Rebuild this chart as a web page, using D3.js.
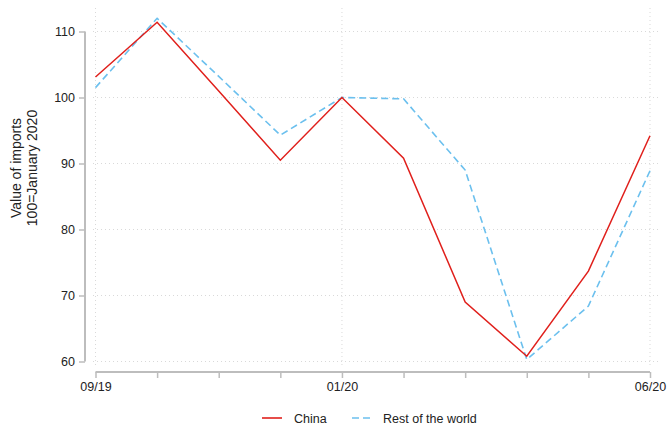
<!DOCTYPE html>
<html><head><meta charset="utf-8">
<script src="https://cdn.jsdelivr.net/npm/d3@7"></script>
<style>body{margin:0;background:#fff}svg{display:block;font-family:"Liberation Sans",Arial,sans-serif}</style>
</head><body><svg id="c" width="667" height="424"></svg>
<script>
const months = ["09/19","10/19","11/19","12/19","01/20","02/20","03/20","04/20","05/20","06/20"];
const china = [103.1, 111.4, 101.0, 90.5, 100.0, 90.8, 69.0, 60.8, 73.7, 94.2];
const rest  = [101.5, 112.0, 103.2, 94.3, 100.0, 99.8, 89.0, 60.3, 68.4, 88.9];
const labeledMonths = ["09/19","01/20","06/20"];
const yTicks = [60,70,80,90,100,110];
const seriesNames = ["China","Rest of the world"];

const svg = d3.select("#c");
const x = d3.scalePoint().domain(months).range([95.5, 650]);
const y = d3.scaleLinear().domain([60,110]).range([361.5, 31.5]);
const gridCol = "#d9d9d9", axisCol = "#bdbdbd";

// horizontal grid
svg.append("g").selectAll("line").data(yTicks).join("line")
  .attr("x1", 93).attr("x2", 658)
  .attr("y1", d=>y(d)).attr("y2", d=>y(d))
  .attr("stroke", gridCol).attr("stroke-width", 1).attr("stroke-dasharray","1,3");
// vertical grid
svg.append("g").selectAll("line").data(labeledMonths).join("line")
  .attr("x1", d=>x(d)).attr("x2", d=>x(d))
  .attr("y1", 8).attr("y2", 368)
  .attr("stroke", gridCol).attr("stroke-width", 1).attr("stroke-dasharray","1,3");

// y axis
const ya = svg.append("g").attr("transform","translate(85,0)")
  .call(d3.axisLeft(y).tickValues(yTicks).tickSize(6).tickPadding(4));
ya.select(".domain").attr("stroke", axisCol).attr("stroke-width", 2).attr("d", `M0,${y(110)}V${y(60)}`);
ya.selectAll(".tick line").attr("stroke", axisCol).attr("stroke-width", 1.5);
ya.selectAll("text").attr("font-size", 12.5).attr("fill","#222").attr("font-family","Liberation Sans, Arial, sans-serif");

// x axis
const xa = svg.append("g").attr("transform","translate(0,372)")
  .call(d3.axisBottom(x).tickSize(6).tickPadding(4).tickFormat(d=>labeledMonths.includes(d)?d:""));
xa.select(".domain").attr("stroke", axisCol).attr("stroke-width", 2).attr("d", `M${x(months[0])},0H${x(months[months.length-1])}`);
xa.selectAll(".tick line").attr("stroke", axisCol).attr("stroke-width", 1.5);
xa.selectAll("text").attr("font-size", 12.5).attr("fill","#222").attr("font-family","Liberation Sans, Arial, sans-serif");

// y title
const yt = svg.append("text").attr("transform","translate(0,168) rotate(-90)")
  .attr("text-anchor","middle").attr("font-size",14).attr("fill","#222");
yt.append("tspan").attr("x",0).attr("y",21).text("Value of imports");
yt.append("tspan").attr("x",0).attr("y",37).text("100=January 2020");

// lines
const line = d3.line().x((d,i)=>x(months[i])).y(d=>y(d));
svg.append("path").datum(rest).attr("d", line).attr("fill","none")
  .attr("stroke","#6cc0ee").attr("stroke-width",1.6).attr("stroke-dasharray","7,4");
svg.append("path").datum(china).attr("d", line).attr("fill","none")
  .attr("stroke","#e0201c").attr("stroke-width",1.5);

// legend
const lg = svg.append("g");
lg.append("line").attr("x1",262).attr("x2",282).attr("y1",418).attr("y2",418)
  .attr("stroke","#e0201c").attr("stroke-width",1.6);
lg.append("text").attr("x",294).attr("y",422.5).attr("font-size",12.5).attr("fill","#222").text(seriesNames[0]);
lg.append("line").attr("x1",352).attr("x2",370).attr("y1",418).attr("y2",418)
  .attr("stroke","#6cc0ee").attr("stroke-width",1.6).attr("stroke-dasharray","7,4");
lg.append("text").attr("x",383).attr("y",422.5).attr("font-size",12.5).attr("fill","#222").text(seriesNames[1]);
</script></body></html>
